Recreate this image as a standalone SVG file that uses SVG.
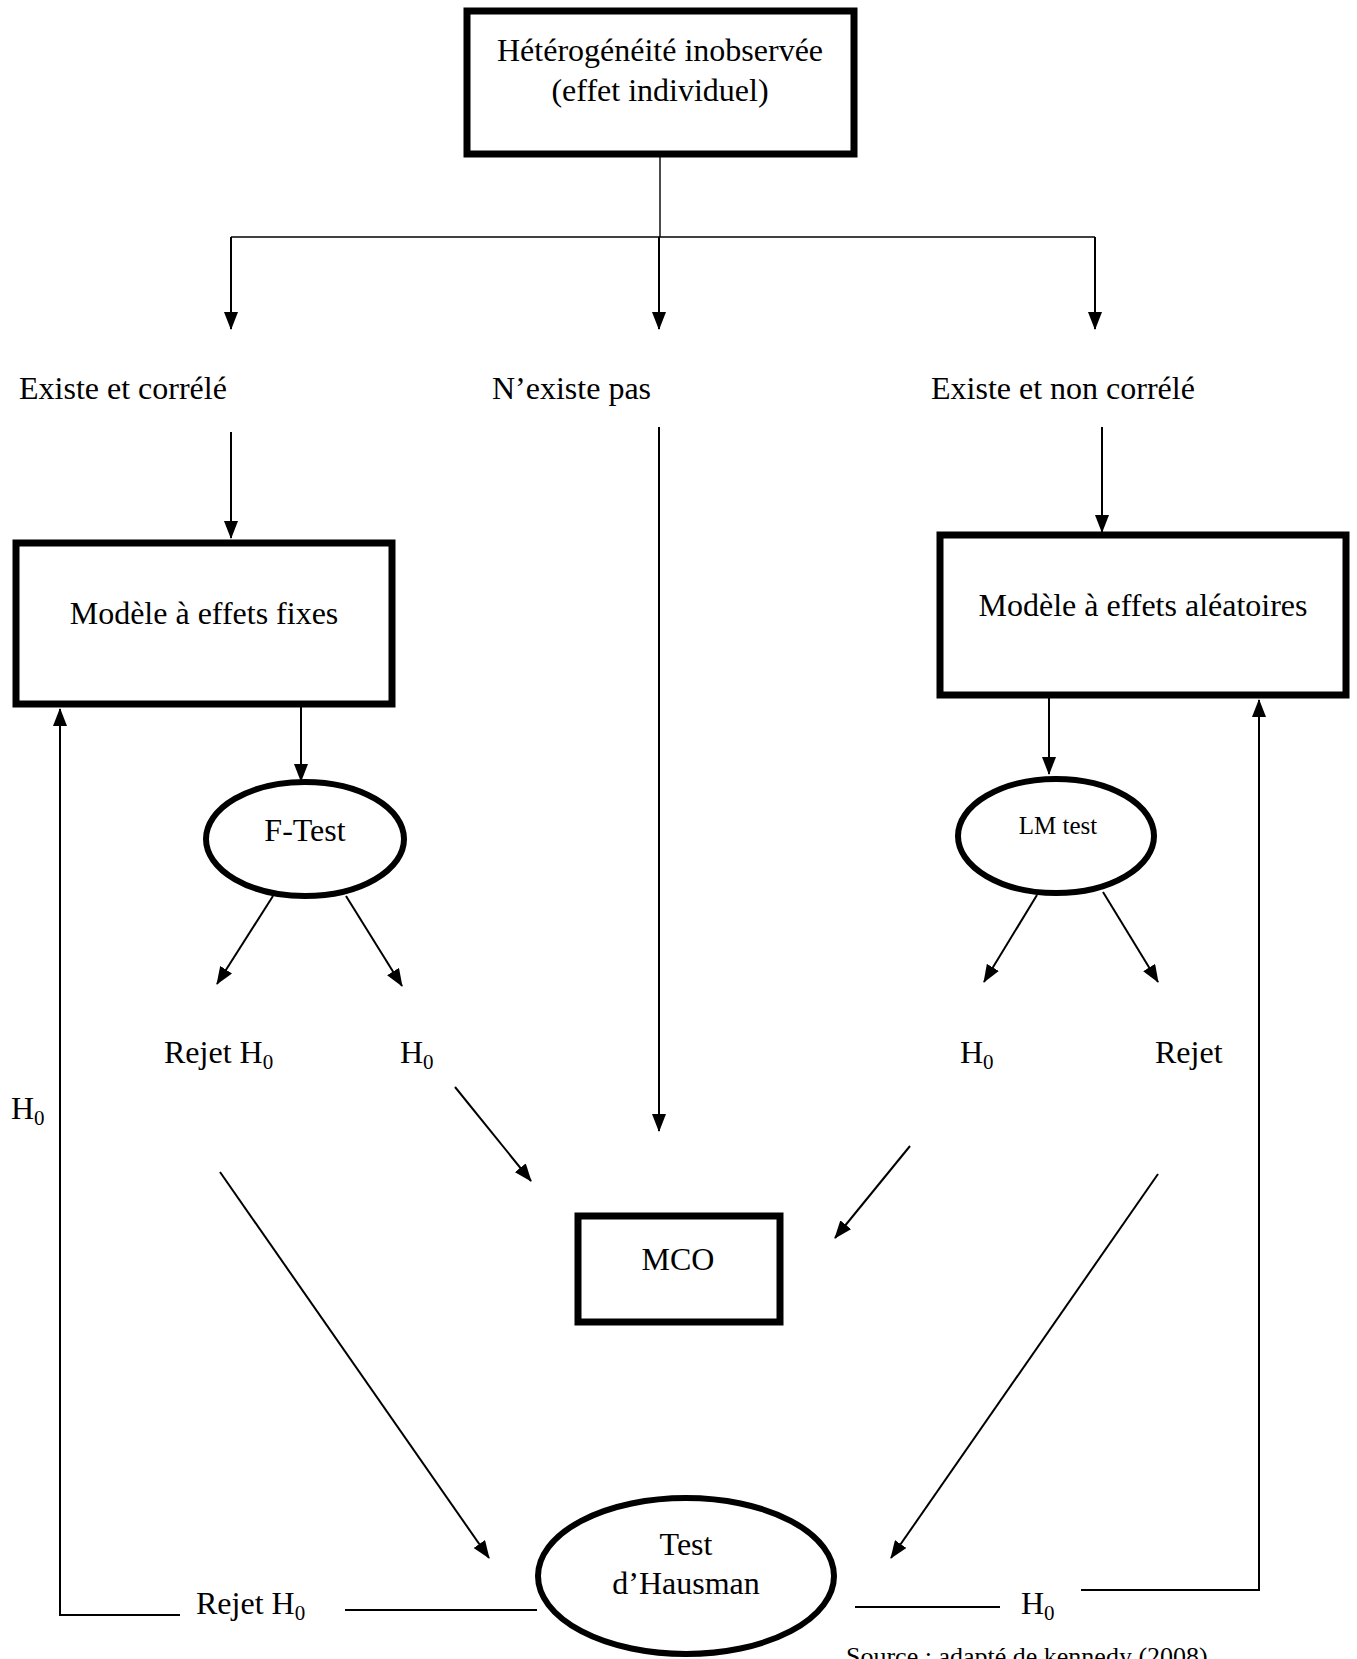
<svg xmlns="http://www.w3.org/2000/svg" width="1357" height="1659" viewBox="0 0 1357 1659">
<defs>
<style>
text{font-family:"Liberation Serif","Times New Roman",serif;font-size:32px;fill:#000}
.c{text-anchor:middle}
.box{fill:#fff;stroke:#000;stroke-width:7}
.ell{fill:#fff;stroke:#000;stroke-width:6}
.ln{fill:none;stroke:#000;stroke-width:2}
.thin{fill:none;stroke:#000;stroke-width:1.4}
.sub{font-size:21px}
</style>
<marker id="ah" markerUnits="userSpaceOnUse" markerWidth="18" markerHeight="14" refX="17" refY="7" orient="auto" viewBox="0 0 18 14">
<path d="M0,0 L18,7 L0,14 z" fill="#000"/>
</marker>
</defs>
<rect width="1357" height="1659" fill="#fff"/>
<g id="connectors">
<line class="thin" x1="660" y1="154" x2="660" y2="237"/>
<line class="thin" x1="231" y1="237" x2="1095" y2="237"/>
<line class="ln" x1="231" y1="237" x2="231" y2="329" marker-end="url(#ah)"/>
<line class="ln" x1="659" y1="237" x2="659" y2="329" marker-end="url(#ah)"/>
<line class="ln" x1="1095" y1="237" x2="1095" y2="329" marker-end="url(#ah)"/>
<line class="ln" x1="231" y1="432" x2="231" y2="538" marker-end="url(#ah)"/>
<line class="ln" x1="1102" y1="427" x2="1102" y2="532" marker-end="url(#ah)"/>
<line class="ln" x1="659" y1="427" x2="659" y2="1131" marker-end="url(#ah)"/>
<line class="ln" x1="301" y1="706" x2="301" y2="781" marker-end="url(#ah)"/>
<line class="ln" x1="273" y1="896" x2="217" y2="984" marker-end="url(#ah)"/>
<line class="ln" x1="346" y1="896" x2="402" y2="986" marker-end="url(#ah)"/>
<line class="ln" x1="1049" y1="698" x2="1049" y2="774" marker-end="url(#ah)"/>
<line class="ln" x1="1037" y1="895" x2="984" y2="982" marker-end="url(#ah)"/>
<line class="ln" x1="1103" y1="892" x2="1158" y2="982" marker-end="url(#ah)"/>
<line class="ln" x1="455" y1="1087" x2="531" y2="1181" marker-end="url(#ah)"/>
<line class="ln" x1="910" y1="1146" x2="835" y2="1238" marker-end="url(#ah)"/>
<line class="ln" x1="220" y1="1172" x2="489" y2="1558" marker-end="url(#ah)"/>
<line class="ln" x1="1158" y1="1174" x2="891" y2="1558" marker-end="url(#ah)"/>
<polyline class="ln" points="180,1615 60,1615 60,709" marker-end="url(#ah)"/>
<line class="ln" x1="345" y1="1610" x2="537" y2="1610"/>
<line class="ln" x1="855" y1="1607" x2="1000" y2="1607"/>
<polyline class="ln" points="1081,1590 1259,1590 1259,700" marker-end="url(#ah)"/>
</g>
<g id="node-heterogeneite">
<rect class="box" x="467" y="11" width="387" height="143"/>
<text class="c" x="660" y="61">Hétérogénéité inobservée</text>
<text class="c" x="660" y="101">(effet individuel)</text>
</g>
<g id="label-existe-correle"><text x="19" y="399">Existe et corrélé</text></g>
<g id="label-nexiste-pas"><text x="492" y="399">N’existe pas</text></g>
<g id="label-existe-non-correle"><text x="931" y="399">Existe et non corrélé</text></g>
<g id="node-effets-fixes">
<rect class="box" x="16" y="543" width="376" height="161"/>
<text class="c" x="204" y="624">Modèle à effets fixes</text>
</g>
<g id="node-effets-aleatoires">
<rect class="box" x="940" y="535" width="406" height="160"/>
<text class="c" x="1143" y="616">Modèle à effets aléatoires</text>
</g>
<g id="node-ftest">
<ellipse class="ell" cx="305" cy="839" rx="99" ry="57"/>
<text class="c" x="305" y="841">F-Test</text>
</g>
<g id="node-lmtest">
<ellipse class="ell" cx="1056" cy="836" rx="98" ry="57"/>
<text class="c" x="1058" y="834" style="font-size:25px">LM test</text>
</g>
<g id="label-rejet-h0-f"><text x="164" y="1063">Rejet H<tspan class="sub" dy="6">0</tspan></text></g>
<g id="label-h0-f"><text x="400" y="1063">H<tspan class="sub" dy="6">0</tspan></text></g>
<g id="label-h0-left"><text x="11" y="1119">H<tspan class="sub" dy="6">0</tspan></text></g>
<g id="label-h0-lm"><text x="960" y="1063">H<tspan class="sub" dy="6">0</tspan></text></g>
<g id="label-rejet-lm"><text x="1155" y="1063">Rejet</text></g>
<g id="node-mco">
<rect class="box" x="578" y="1216" width="202" height="106"/>
<text class="c" x="678" y="1270">MCO</text>
</g>
<g id="node-hausman">
<ellipse class="ell" cx="686" cy="1576" rx="148" ry="78"/>
<text class="c" x="686" y="1555">Test</text>
<text class="c" x="686" y="1594">d’Hausman</text>
</g>
<g id="label-rejet-h0-bottom"><text x="196" y="1614">Rejet H<tspan class="sub" dy="6">0</tspan></text></g>
<g id="label-h0-bottom"><text x="1021" y="1614">H<tspan class="sub" dy="6">0</tspan></text></g>
<g id="source"><text x="846" y="1665" style="font-size:26px">Source : adapté de kennedy (2008)</text></g>
</svg>
